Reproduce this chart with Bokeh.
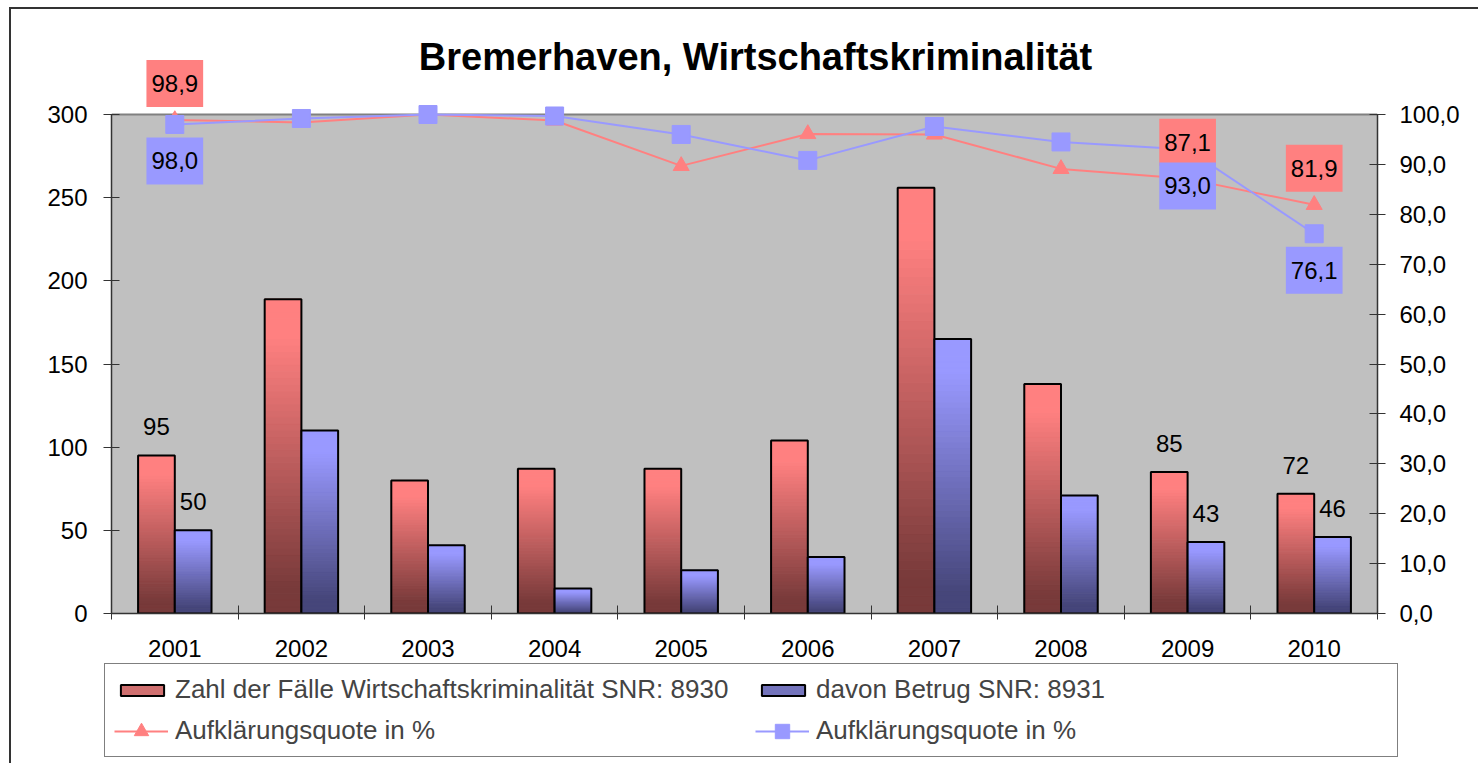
from bokeh.plotting import figure
from bokeh.layouts import column
from bokeh.models import (Range1d, LinearAxis, FixedTicker, CustomJSTickFormatter,
                          Label, Legend, LegendItem, ColumnDataSource, BoxAnnotation, Span)
from bokeh.embed import file_html
from bokeh.resources import INLINE

# ---------------- data ----------------
years = ["2001", "2002", "2003", "2004", "2005", "2006", "2007", "2008", "2009", "2010"]
faelle = [95, 189, 80, 87, 87, 104, 256, 138, 85, 72]          # Zahl der Fälle Wirtschaftskriminalität SNR: 8930
betrug = [50, 110, 41, 15, 26, 34, 165, 71, 43, 46]            # davon Betrug SNR: 8931
quote_faelle = [98.9, 98.4, 100.0, 98.8, 89.7, 96.1, 96.0, 89.1, 87.1, 81.9]   # Aufklärungsquote in % (Fälle)
quote_betrug = [98.0, 99.2, 100.0, 99.7, 96.0, 90.8, 97.6, 94.5, 93.0, 76.1]   # Aufklärungsquote in % (Betrug)
labeled_years = ["2001", "2009", "2010"]
left_ticks = [0, 50, 100, 150, 200, 250, 300]
right_ticks = [0, 10, 20, 30, 40, 50, 60, 70, 80, 90, 100]
left_max, right_max = 300, 100

title_text = "Bremerhaven, Wirtschaftskriminalität"
leg_faelle = "Zahl der Fälle Wirtschaftskriminalität SNR: 8930"
leg_betrug = "davon Betrug SNR: 8931"
leg_quote = "Aufklärungsquote in %"

# ---------------- style / layout ----------------
FONT = "Liberation Sans"
RED_TOP, RED_BOT = (255, 128, 128), (120, 58, 58)
BLUE_TOP, BLUE_BOT = (153, 153, 255), (70, 70, 122)
BAR_W = 0.29
W, H1, H2 = 1478, 660, 103
FR_L, FR_R, FR_T, FR_B = 111, 1377, 20, 613     # frame in canvas px
PLOT_TOP = 114                                    # pixel of left_max
head = (FR_B - FR_T) / (FR_B - PLOT_TOP)          # range stretch so labels above the plot area stay in the frame

bg1 = ("linear-gradient(#333,#333) 9px 7px / 2px calc(100% - 7px) no-repeat, "
       "linear-gradient(#333,#333) 9px 7px / calc(100% - 9px) 2px no-repeat, white")
bg2 = "linear-gradient(#333,#333) 9px 0px / 2px 100% no-repeat, white"

p = figure(width=W, height=H1, x_range=Range1d(0, len(years)), y_range=Range1d(0, left_max * head),
           output_backend="svg", toolbar_location=None, title=None,
           min_border_left=FR_L, min_border_right=W - FR_R, min_border_top=FR_T,
           min_border_bottom=H1 - FR_B,
           background_fill_color="white", background_fill_alpha=0,
           border_fill_color="white", border_fill_alpha=0,
           styles={"background": bg1})
p.frame_align = False
p.extra_y_ranges = {"right": Range1d(0, right_max * head)}
p.xgrid.visible = False
p.ygrid.visible = False
p.outline_line_color = None

# grey plot area
p.add_layout(BoxAnnotation(bottom=0, top=left_max, fill_color="#C0C0C0", fill_alpha=1,
                           line_color=None, level="underlay"))
p.add_layout(Span(location=left_max, dimension="width", line_color="#808080", line_width=2,
                  level="underlay"))


def lerp(c_bot, c_top, t):
    s = min(max((t - 0.08) / 0.8, 0.0), 1.0)
    return "#%02x%02x%02x" % tuple(int(round(a + (b - a) * s)) for a, b in zip(c_bot, c_top))


centers = [i + 0.5 for i in range(len(years))]
N = 48
for values, off, ctop, cbot in ((faelle, -BAR_W / 2, RED_TOP, RED_BOT),
                                (betrug, BAR_W / 2, BLUE_TOP, BLUE_BOT)):
    L, R, B, T, C = [], [], [], [], []
    for c, v in zip(centers, values):
        for k in range(N):
            L.append(c + off - BAR_W / 2)
            R.append(c + off + BAR_W / 2)
            B.append(v * k / N)
            T.append(v * (k + 1) / N)
            C.append(lerp(cbot, ctop, (k + 0.5) / N))
    p.quad(left=L, right=R, bottom=B, top=T, fill_color=C, line_color=C, line_width=1)
    p.quad(left=[c + off - BAR_W / 2 for c in centers], right=[c + off + BAR_W / 2 for c in centers],
           bottom=[0] * len(values), top=values, fill_color=None, line_color="black", line_width=2)

# lines on the right axis
p.line(centers, quote_faelle, y_range_name="right", line_color="#FF8080", line_width=2)
p.scatter(centers, quote_faelle, y_range_name="right", marker="triangle", size=16,
          fill_color="#FF8080", line_color="#FF8080")
p.line(centers, quote_betrug, y_range_name="right", line_color="#9999FF", line_width=2)
p.scatter(centers, quote_betrug, y_range_name="right", marker="square", size=18,
          fill_color="#9999FF", line_color="#9999FF")

# axes
p.xaxis.ticker = FixedTicker(ticks=centers, minor_ticks=list(range(len(years) + 1)))
p.xaxis.formatter = CustomJSTickFormatter(args=dict(years=years),
                                          code="return years[Math.floor(tick)];")
p.xaxis.major_tick_line_color = None
p.xaxis.major_tick_out = 0
p.xaxis.major_tick_in = 0
p.xaxis.minor_tick_in = 8
p.xaxis.minor_tick_out = 6
p.xaxis.minor_tick_line_color = "#333333"
p.xaxis.major_label_standoff = 20

p.yaxis.ticker = FixedTicker(ticks=left_ticks)
p.yaxis.bounds = (0, left_max)
ry = LinearAxis(y_range_name="right", ticker=FixedTicker(ticks=right_ticks), bounds=(0, right_max),
                formatter=CustomJSTickFormatter(code="return tick.toFixed(1).replace('.', ',');"))
p.add_layout(ry, "right")

for ax in (p.xaxis[0], p.yaxis[0], ry):
    ax.axis_line_color = "#333333"
    ax.axis_line_width = 1.5
    ax.major_label_text_font = FONT
    ax.major_label_text_font_size = "24px"
    ax.major_label_text_color = "black"
for ax in (p.yaxis[0], ry):
    ax.major_tick_in = 8
    ax.major_tick_out = 8
    ax.major_tick_line_color = "#333333"
    ax.minor_tick_line_color = None
p.yaxis[0].major_label_standoff = 16
ry.major_label_standoff = 14

# title
p.add_layout(Label(x=len(years) / 2, y=left_max, x_offset=11, y_offset=58, text=title_text,
                   text_font=FONT, text_font_size="38px", text_font_style="bold",
                   text_align="center", text_baseline="alphabetic", text_color="black"))

# data labels
for i, yr in enumerate(years):
    if yr not in labeled_years:
        continue
    c = centers[i]
    p.add_layout(Label(x=c - BAR_W / 2, y=faelle[i], y_offset=20, text=str(faelle[i]),
                       text_font=FONT, text_font_size="24px", text_align="center",
                       text_baseline="bottom", text_color="black"))
    p.add_layout(Label(x=c + BAR_W / 2, y=betrug[i], y_offset=20, text=str(betrug[i]),
                       text_font=FONT, text_font_size="24px", text_align="center",
                       text_baseline="bottom", text_color="black"))
    p.add_layout(Label(x=c, y=quote_faelle[i], y_range_name="right", y_offset=13,
                       text=("%.1f" % quote_faelle[i]).replace(".", ","),
                       text_font=FONT, text_font_size="24px", text_align="center",
                       text_baseline="bottom", text_color="black",
                       background_fill_color="#FF8080",
                       padding=dict(left=5, right=5, top=15, bottom=15)))
    p.add_layout(Label(x=c, y=quote_betrug[i], y_range_name="right", y_offset=-13,
                       text=("%.1f" % quote_betrug[i]).replace(".", ","),
                       text_font=FONT, text_font_size="24px", text_align="center",
                       text_baseline="top", text_color="black",
                       background_fill_color="#9999FF",
                       padding=dict(left=5, right=5, top=15, bottom=15)))

# ---------------- legend strip ----------------
q = figure(width=W, height=H2, x_range=Range1d(0, 1), y_range=Range1d(0, 1),
           output_backend="svg", toolbar_location=None, title=None,
           x_axis_location=None, y_axis_location=None,
           min_border=0, min_border_left=0, min_border_right=0, min_border_top=0, min_border_bottom=0,
           background_fill_alpha=0, border_fill_alpha=0, outline_line_color=None,
           styles={"background": bg2})
q.frame_align = False
q.xgrid.visible = False
q.ygrid.visible = False
nan = float("nan")
e = ColumnDataSource(dict(l=[nan], r=[nan], b=[nan], t=[nan], x=[nan], y=[nan]))
lr = q.quad(left="l", right="r", bottom="b", top="t", source=e, fill_color="#D07070",
            line_color="black", line_width=2)
lb = q.quad(left="l", right="r", bottom="b", top="t", source=e, fill_color="#7474BC",
            line_color="black", line_width=2)
blank = q.line("x", "y", source=e, line_alpha=0)
rl = q.line("x", "y", source=e, line_color="#FF8080", line_width=2)
rm = q.scatter("x", "y", source=e, marker="triangle", size=16, fill_color="#FF8080",
               line_color="#FF8080")
bl = q.line("x", "y", source=e, line_color="#9999FF", line_width=2)
bm = q.scatter("x", "y", source=e, marker="square", size=18, fill_color="#9999FF",
               line_color="#9999FF")

LEG = dict(orientation="vertical", ncols=2, label_text_font=FONT, label_text_font_size="26px",
           glyph_width=54, label_standoff=6, label_width=571, label_height=24,
           spacing=10, padding=10, margin=0)

legend = Legend(items=[LegendItem(label=leg_faelle, renderers=[lr]),
                       LegendItem(label=leg_quote, renderers=[blank]),
                       LegendItem(label=leg_betrug, renderers=[lb]),
                       LegendItem(label=leg_quote, renderers=[blank])],
                location=(104, 6), glyph_height=14,
                border_line_color="black", border_line_width=1,
                background_fill_color="white", background_fill_alpha=1, **LEG)
q.add_layout(legend)

# line-series swatches (larger glyph box so the markers keep their size), no visible text
legend2 = Legend(items=[LegendItem(label="", renderers=[rl, rm]),
                        LegendItem(label="", renderers=[bl, bm])],
                 location=(104, 4), glyph_height=36,
                 border_line_color="white", border_line_alpha=0,
                 background_fill_alpha=0, **LEG)
q.add_layout(legend2)

open("out.html", "w").write(file_html(column(p, q, spacing=0), INLINE))
